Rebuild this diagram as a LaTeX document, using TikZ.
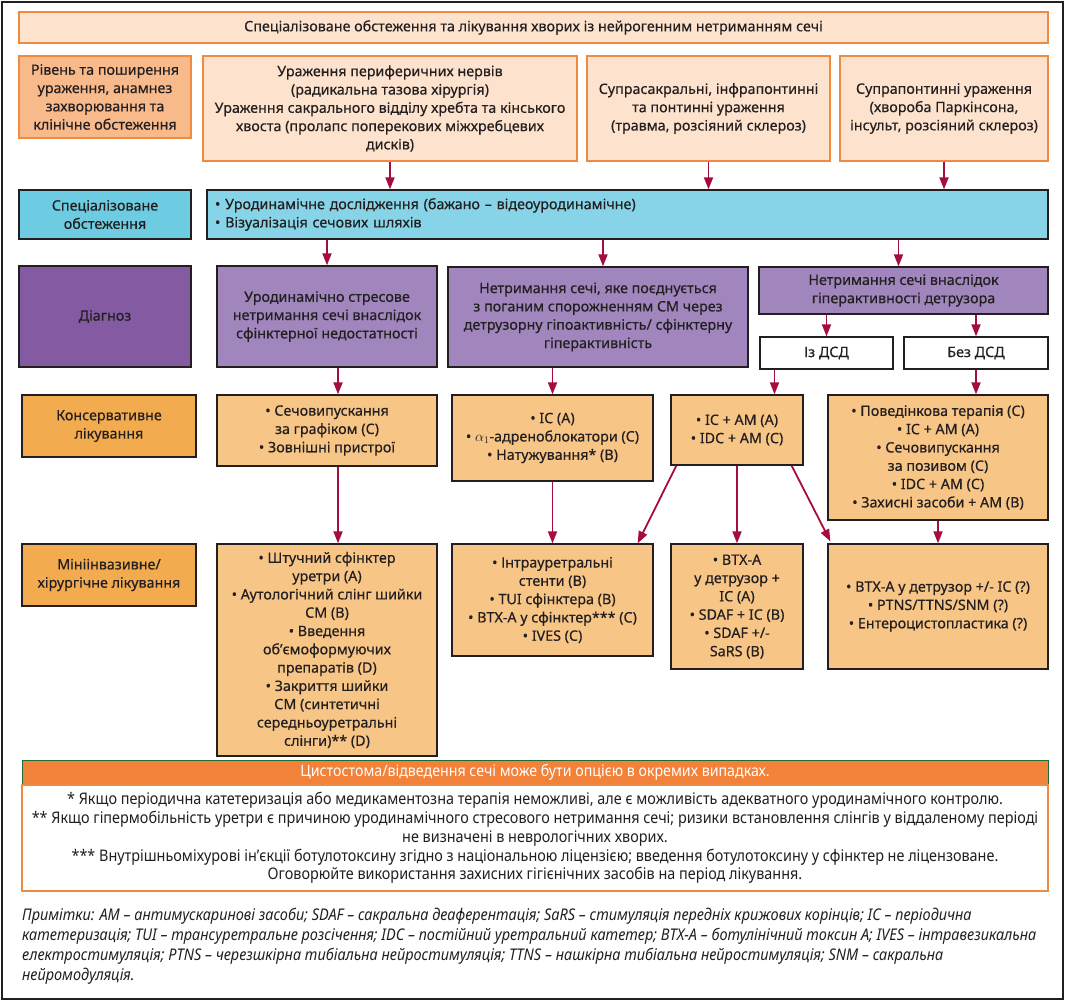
\documentclass[tikz,border=0pt]{standalone}
\usepackage{fontspec}
\setmainfont{Noto Sans}[FakeBold=0.4]
\newfontfamily\condfont{Noto Sans}[FakeStretch=0.9]
\usetikzlibrary{arrows.meta,calc}
\definecolor{PeachLight}{HTML}{FDE3CD}
\definecolor{PeachDark}{HTML}{F9BA8B}
\definecolor{OrangeLine}{HTML}{EF8A3E}
\definecolor{CyanDark}{HTML}{6DCBE2}
\definecolor{CyanLight}{HTML}{87D4E8}
\definecolor{PurpleDark}{HTML}{845BA3}
\definecolor{PurpleLight}{HTML}{A086BD}
\definecolor{AmberDark}{HTML}{F2AB4F}
\definecolor{AmberLight}{HTML}{F7C586}
\definecolor{InkDark}{HTML}{231F20}
\definecolor{ArrowRed}{HTML}{A50D3F}
\definecolor{BarOrange}{HTML}{F28139}
\definecolor{BarGreen}{HTML}{1F6B35}

\begin{document}
\begin{tikzpicture}[x=1pt, y=-1pt, >={Triangle[length=12pt,width=9pt]},
    every node/.style={font=\fontsize{14.3}{18.3}\selectfont, text=InkDark},
    card/.style={draw=InkDark, line width=1.3pt, align=center, inner sep=3pt},
    softcard/.style={draw=OrangeLine, line width=1.3pt, align=center, inner sep=3pt},
    arr/.style={->, ArrowRed, line width=1.8pt}]
  \useasboundingbox (0,0) rectangle (1065,1001);
  \draw[line width=1.3pt, InkDark] (2,2) rectangle (1063,999);

  \node[softcard, fill=PeachLight, minimum width=1029pt, minimum height=31pt] (title) at (533.5,27.5)
    {Спеціалізоване обстеження та лікування хворих із нейрогенним нетриманням сечі};

  \node[softcard, fill=PeachDark, minimum width=172pt, minimum height=82pt] (levelLbl) at (105,97)
    {Рівень та поширення\\ураження, анамнез\\захворювання та\\клінічне обстеження};
  \node[softcard, fill=PeachLight, minimum width=374pt, minimum height=105pt] (perif) at (390,108.5)
    {Ураження периферичних нервів\\(радикальна тазова хірургія)\\Ураження сакрального відділу хребта та кінського\\хвоста (пролапс поперекових міжхребцевих\\дисків)};
  \node[softcard, fill=PeachLight, minimum width=243pt, minimum height=105pt] (supra) at (708.5,108.5)
    {Супрасакральні, інфрапонтинні\\та понтинні ураження\\(травма, розсіяний склероз)};
  \node[softcard, fill=PeachLight, minimum width=208pt, minimum height=105pt] (pont) at (944,108.5)
    {Супрапонтинні ураження\\(хвороба Паркінсона,\\інсульт, розсіяний склероз)};

  \node[card, fill=CyanDark, minimum width=172pt, minimum height=49pt] (examLbl) at (105,214.5)
    {Спеціалізоване\\обстеження};
  \node[card, fill=CyanLight, minimum width=841pt, minimum height=49pt, align=left,
        text width=825pt, inner xsep=8pt] (exam) at (627.5,214.5)
    {• Уродинамічне дослідження (бажано – відеоуродинамічне)\\• Візуалізація сечових шляхів};

  \node[card, fill=PurpleDark, minimum width=172pt, minimum height=101pt] (diagLbl) at (105,316.5)
    {Діагноз};
  \node[card, fill=PurpleLight, minimum width=220pt, minimum height=101pt] (diag1) at (327,316.5)
    {Уродинамічно стресове\\нетримання сечі внаслідок\\сфінктерної недостатності};
  \node[card, fill=PurpleLight, minimum width=300pt, minimum height=100pt] (diag2) at (598,317)
    {Нетримання сечі, яке поєднується\\з поганим спорожненням СМ через\\детрузорну гіпоактивність/ сфінктерну\\гіперактивність};
  \node[card, fill=PurpleLight, minimum width=289pt, minimum height=47pt] (diag3) at (903.5,290.5)
    {Нетримання сечі внаслідок\\гіперактивності детрузора};
  \node[card, fill=white, minimum width=133pt, minimum height=32pt] (dsdYes) at (826.5,353)
    {Із ДСД};
  \node[card, fill=white, minimum width=144pt, minimum height=32pt] (dsdNo) at (976,353)
    {Без ДСД};

  \node[card, fill=AmberDark, minimum width=174pt, minimum height=62pt] (consLbl) at (109,426)
    {Консервативне\\лікування};
  \node[card, fill=AmberLight, minimum width=220pt, minimum height=71pt] (cons1) at (327,430.5)
    {• Сечовипускання\\за графіком (C)\\• Зовнішні пристрої};
  \node[card, fill=AmberLight, minimum width=201pt, minimum height=86pt] (cons2) at (552.5,438)
    {• IC (A)\\• \(\alpha_1\)-адреноблокатори (C)\\• Натужування* (B)};
  \node[card, fill=AmberLight, minimum width=132pt, minimum height=70pt] (cons3) at (737,430)
    {• IC + AM (A)\\• IDC + AM (C)};
  \node[card, fill=AmberLight, minimum width=220pt, minimum height=125pt] (cons4) at (938,457.5)
    {• Поведінкова терапія (C)\\• IC + AM (A)\\• Сечовипускання\\за позивом (C)\\• IDC + AM (C)\\• Захисні засоби + AM (B)};

  \node[card, fill=AmberDark, minimum width=174pt, minimum height=62pt] (surgLbl) at (109,575)
    {Мініінвазивне/\\хірургічне лікування};
  \node[card, fill=AmberLight, minimum width=220pt, minimum height=212pt] (surg1) at (327,650)
    {• Штучний сфінктер\\уретри (A)\\• Аутологічний слінг шийки\\СМ (B)\\• Введення\\об’ємоформуючих\\препаратів (D)\\• Закриття шийки\\СМ (синтетичні\\середньоуретральні\\слінги)** (D)};
  \node[card, fill=AmberLight, minimum width=201pt, minimum height=112pt] (surg2) at (552.5,600)
    {• Інтрауретральні\\стенти (B)\\• TUI сфінктера (B)\\• BTX-A у сфінктер*** (C)\\• IVES (C)};
  \node[card, fill=AmberLight, minimum width=132pt, minimum height=125pt] (surg3) at (737,606.5)
    {• BTX-A\\у детрузор +\\IC (A)\\• SDAF + IC (B)\\• SDAF +/-\\SaRS (B)};
  \node[card, fill=AmberLight, minimum width=220pt, minimum height=125pt] (surg4) at (938,606.5)
    {• BTX-A у детрузор +/- IC (?)\\• PTNS/TTNS/SNM (?)\\• Ентероцистопластика (?)};

  \node[draw=BarGreen, line width=1pt, fill=BarOrange, minimum width=1026pt, minimum height=25pt,
        text=white, font=\condfont\fontsize{15.8}{18}\selectfont] (bar) at (535,772.5)
    {Цистостома/відведення сечі може бути опцією в окремих випадках.};
  \node[softcard, fill=white, minimum width=1026pt, minimum height=106pt,
        font=\condfont\fontsize{16}{18.8}\selectfont] (fnotes) at (535,838)
    {* Якщо періодична катетеризація або медикаментозна терапія неможливі, але є можливість адекватного уродинамічного контролю.\\
     ** Якщо гіпермобільність уретри є причиною уродинамічного стресового нетримання сечі; ризики встановлення слінгів у віддаленому періоді\\
     не визначені в неврологічних хворих.\\
     *** Внутрішньоміхурові ін’єкції ботулотоксину згідно з національною ліцензією; введення ботулотоксину у сфінктер не ліцензоване.\\
     Оговорюйте використання захисних гігієнічних засобів на період лікування.};
  \node[anchor=north west, align=left, inner sep=0pt,
        font=\condfont\itshape\fontsize{16.1}{20}\selectfont] (notes) at (22,908)
    {Примітки: AM – антимускаринові засоби; SDAF – сакральна деаферентація; SaRS – стимуляція передніх крижових корінців; IC – періодична\\
     катетеризація; TUI – трансуретральне розсічення; IDC – постійний уретральний катетер; BTX-A – ботулінічний токсин A; IVES – інтравезикальна\\
     електростимуляція; PTNS – черезшкірна тибіальна нейростимуляція; TTNS – нашкірна тибіальна нейростимуляція; SNM – сакральна\\
     нейромодуляція.};

  \coordinate (d2in) at ($(diag2.north)+(5,0)$);
  \coordinate (d3in) at ($(diag3.north)+(-5,0)$);
  \coordinate (d1out) at ($(diag1.south)+(11,0)$);
  \coordinate (c1out) at ($(cons1.south)+(11,0)$);
  \coordinate (yesOut) at ($(dsdYes.south)+(-52,0)$);
  \coordinate (c3left) at ($(cons3.south west)+(6,0)$);
  \coordinate (s2in) at ($(surg2.north east)+(-16,0)$);
  \coordinate (c3right) at ($(cons3.south east)+(-12,0)$);
  \coordinate (s4in) at ($(surg4.north west)+(3,-2)$);

  \draw[arr] (perif.south) -- (perif.south |- exam.north);
  \draw[arr] (supra.south) -- (supra.south |- exam.north);
  \draw[arr] (pont.south) -- (pont.south |- exam.north);
  \draw[arr] (exam.south -| diag1.north) -- (diag1.north);
  \draw[arr] (exam.south -| d2in) -- (d2in);
  \draw[arr] (exam.south -| d3in) -- (d3in);
  \draw[arr] (d1out) -- (d1out |- cons1.north);
  \draw[arr] (diag2.south -| cons2.north) -- (cons2.north);
  \draw[arr] (diag3.south -| dsdYes.north) -- (dsdYes.north);
  \draw[arr] (diag3.south -| dsdNo.north) -- (dsdNo.north);
  \draw[arr] (yesOut) -- (yesOut |- cons3.north);
  \draw[arr] (dsdNo.south) -- (dsdNo.south |- cons4.north);
  \draw[arr] (c1out) -- (c1out |- surg1.north);
  \draw[arr] (cons2.south) -- (surg2.north);
  \draw[arr] (c3left) -- (s2in);
  \draw[arr] (cons3.south) -- (surg3.north);
  \draw[arr] (c3right) -- (s4in);
  \draw[arr] (cons4.south -| surg4.north) -- (surg4.north);
\end{tikzpicture}
\end{document}
